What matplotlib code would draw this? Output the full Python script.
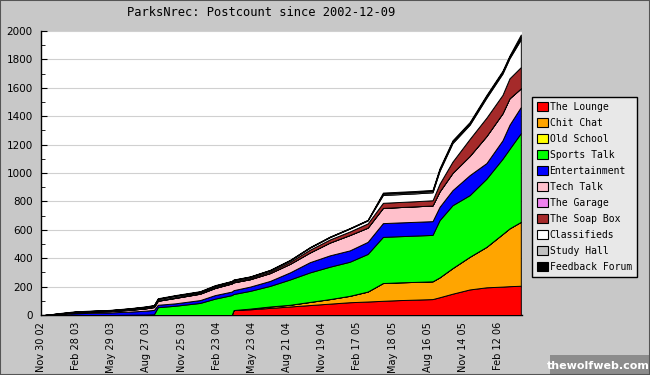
import matplotlib
matplotlib.use("Agg")
from matplotlib import pyplot as plt
from matplotlib.patches import Patch, Rectangle
import numpy as np
import pandas as pd

# sample dates
dates = pd.to_datetime([
    "2002-12-09", "2003-01-17", "2003-02-25", "2003-04-17", "2003-05-25",
    "2003-07-15", "2003-08-23", "2003-09-15", "2003-09-25", "2003-11-08",
    "2004-01-11", "2004-02-18", "2004-04-01", "2004-04-06", "2004-05-18",
    "2004-07-08", "2004-08-28", "2004-10-18", "2004-12-08", "2005-01-28",
    "2005-03-15", "2005-04-23", "2005-06-05", "2005-07-13", "2005-08-28",
    "2005-09-15", "2005-10-18", "2005-12-01", "2006-01-13", "2006-02-23",
    "2006-03-13", "2006-04-11"])

# post counts per forum
lounge = [0, 0, 0, 0, 0, 0, 0, 0, 0, 0, 0, 0, 0, 35, 40, 50, 60, 70, 80, 90,
          95, 100, 105, 108, 112, 125, 150, 180, 195, 200, 203, 206]
chit_chat = [0, 0, 0, 0, 0, 0, 0, 0, 0, 0, 0, 0, 0, 0, 5, 10, 12, 22, 32, 45,
             70, 125, 125, 125, 125, 140, 180, 230, 285, 370, 407, 450]
old_school = [0] * 32
sports_talk = [0, 0, 0, 0, 0, 2, 3, 5, 55, 65, 85, 115, 140, 113, 125, 145, 178, 208, 228, 240,
               265, 325, 325, 326, 327, 403, 443, 434, 480, 530, 560, 625]
entertainment = [0, 6, 12, 16, 18, 22, 27, 31, 17, 17, 20, 25, 25, 27, 30, 35, 50, 72, 80, 80,
                 85, 97, 97, 97, 97, 94, 106, 141, 110, 130, 170, 184]
tech_talk = [0, 4, 6, 8, 9, 12, 16, 20, 28, 38, 45, 50, 57, 55, 52, 55, 60, 68, 90, 108,
             100, 107, 108, 109, 110, 108, 121, 135, 190, 190, 186, 131]
the_garage = [0] * 32
soap_box = [0, 0, 1, 2, 2, 3, 4, 4, 5, 6, 7, 7, 8, 8, 8, 10, 14, 20, 22, 25,
            30, 36, 36, 36, 37, 55, 80, 120, 130, 130, 141, 150]
classifieds = [0, 2, 3, 3, 4, 5, 6, 6, 8, 9, 6, 8, 6, 8, 8, 9, 10, 14, 16, 20,
               21, 55, 55, 55, 56, 90, 130, 100, 140, 150, 141, 195]
study_hall = [0, 0, 1, 1, 1, 2, 2, 2, 2, 2, 2, 2, 2, 2, 2, 2, 2, 2, 2, 2,
              2, 9, 9, 9, 9, 10, 11, 10, 12, 12, 12, 14]
feedback = [0, 2, 3, 2, 2, 2, 2, 2, 3, 3, 3, 3, 2, 2, 2, 2, 2, 2, 2, 2,
            2, 8, 8, 8, 8, 9, 9, 9, 8, 8, 8, 20]

forums = ["The Lounge", "Chit Chat", "Old School", "Sports Talk", "Entertainment",
          "Tech Talk", "The Garage", "The Soap Box", "Classifieds", "Study Hall",
          "Feedback Forum"]
colors = ["#ff0000", "#ffa500", "#ffff00", "#00ff00", "#0000ff", "#ffc0cb",
          "#ee82ee", "#a52a2a", "#ffffff", "#c0c0c0", "#000000"]

tick_labels = ["Nov 30 02", "Feb 28 03", "May 29 03", "Aug 27 03", "Nov 25 03",
               "Feb 23 04", "May 23 04", "Aug 21 04", "Nov 19 04", "Feb 17 05",
               "May 18 05", "Aug 16 05", "Nov 14 05", "Feb 12 06"]
tick_dates = pd.to_datetime(tick_labels, format="%b %d %y")

bg = "#c8c8c8"
fig = plt.figure(figsize=(6.5, 3.75), dpi=100, facecolor=bg)
ax = fig.add_axes([41 / 650, 1 - 315 / 375, (522 - 41) / 650, (315 - 31) / 375])
ax.set_facecolor("white")

series = [lounge, chit_chat, old_school, sports_talk, entertainment, tech_talk,
          the_garage, soap_box, classifieds, study_hall, feedback]
ax.stackplot(dates, *series, colors=colors, edgecolor="black", linewidth=0.7, zorder=3)

ax.set_ylim(0, 2000)
ax.set_xlim(pd.Timestamp("2002-11-30"), pd.Timestamp("2006-04-14"))
ax.set_yticks(np.arange(0, 2001, 200))
ax.set_yticks(np.arange(100, 2000, 200), minor=True)
ax.yaxis.grid(True, color="#d0d0d0", linewidth=0.8, zorder=0)
ax.set_axisbelow(True)
ax.tick_params(axis="y", which="both", direction="in", length=4, labelsize=7.5, pad=6)
ax.tick_params(axis="y", which="minor", length=3)

ax.set_xticks(tick_dates)
ax.set_xticklabels(tick_labels, rotation=90, fontsize=7, va="top", ha="center")
ax.tick_params(axis="x", direction="in", length=0, pad=5)

for s in ["top", "right"]:
    ax.spines[s].set_visible(False)
for s in ["left", "bottom"]:
    ax.spines[s].set_color("black")
    ax.spines[s].set_linewidth(1)

fig.text(261 / 650, 1 - 12 / 375, "ParksNrec: Postcount since 2002-12-09",
         ha="center", va="center", fontsize=8.7, family="DejaVu Sans Mono")

handles = [Patch(facecolor=c, edgecolor="black", linewidth=0.8) for c in colors]
leg = fig.legend(handles, forums, loc="upper left",
                 bbox_to_anchor=(532 / 650, 1 - 97 / 375),
                 prop={"family": "DejaVu Sans Mono", "size": 7},
                 fancybox=False, framealpha=1, facecolor="#e8e8e8", edgecolor="black",
                 handlelength=1.1, handleheight=1.1, handletextpad=0.2,
                 labelspacing=0.62, borderpad=0.5, borderaxespad=0)
leg.get_frame().set_linewidth(1)

# watermark
fig.patches.append(Rectangle((550 / 650, 0), 100 / 650, 20 / 375, transform=fig.transFigure,
                             facecolor="#8c8c8c", edgecolor="none"))
fig.text(598 / 650, 9 / 375, "thewolfweb.com", ha="center", va="center",
         fontsize=8, color="white", weight="bold")

fig.patches.append(Rectangle((0, 0), 1, 1, transform=fig.transFigure, fill=False,
                             edgecolor="#555555", linewidth=1.5))

fig.savefig("out.png", dpi=100, facecolor=bg)
